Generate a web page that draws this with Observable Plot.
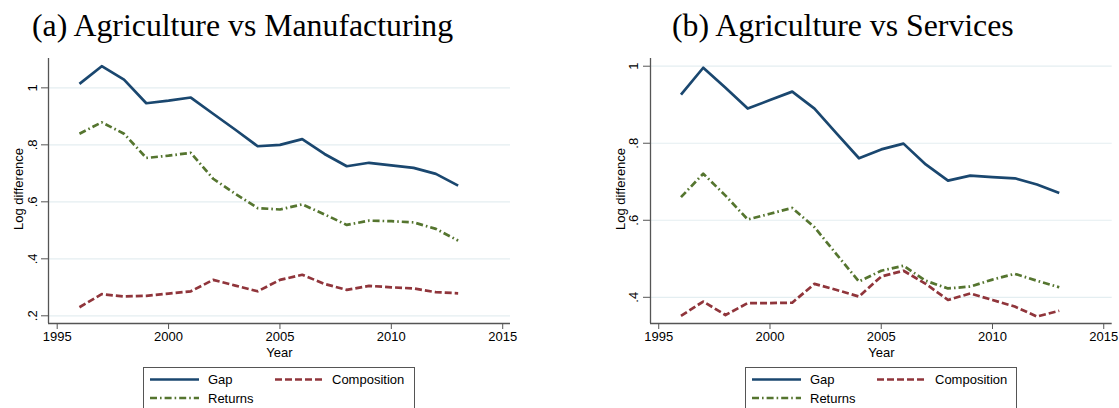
<!DOCTYPE html>
<html><head><meta charset="utf-8">
<script src="https://cdn.jsdelivr.net/npm/d3@7"></script>
<script src="https://cdn.jsdelivr.net/npm/@observablehq/plot@0.6"></script>
<style>
body{margin:0;background:#fff;width:1119px;height:408px;overflow:hidden;position:relative;font-family:"Liberation Sans",Arial,sans-serif}
.title{position:absolute;top:10.2px;font-family:"Liberation Serif","Times New Roman",serif;font-size:31.8px;white-space:nowrap;color:#000;line-height:1}
.panel{position:absolute;top:50px}
.legend{position:absolute;top:367px;width:272px;height:50px;border:1px solid #555;box-sizing:border-box;background:#fff}
.legend svg{position:absolute;left:0;top:0}
</style></head><body>
<div class="title" id="t1" style="left:32px">(a) Agriculture vs Manufacturing</div>
<div class="title" id="t2" style="left:672px">(b) Agriculture vs Services</div>
<div class="panel" id="p1" style="left:0px"></div>
<div class="panel" id="p2" style="left:560px"></div>
<div class="legend" id="l1" style="left:143px"></div>
<div class="legend" id="l2" style="left:745px"></div>
<script>
const years = [1996,1997,1998,1999,2000,2001,2002,2003,2004,2005,2006,2007,2008,2009,2010,2011,2012,2013];
const xTicks = [1995,2000,2005,2010,2015];
const seriesNames = ["Gap","Composition","Returns"];

// (a) Agriculture vs Manufacturing
const mfgGap = [1.014,1.076,1.029,0.946,0.955,0.966,0.909,0.853,0.795,0.800,0.820,0.768,0.725,0.737,0.728,0.719,0.698,0.657];
const mfgComposition = [0.230,0.276,0.268,0.270,0.278,0.286,0.326,0.306,0.286,0.326,0.344,0.312,0.291,0.305,0.300,0.296,0.283,0.279];
const mfgReturns = [0.839,0.879,0.839,0.754,0.762,0.772,0.681,0.628,0.578,0.573,0.591,0.556,0.519,0.534,0.532,0.528,0.505,0.464];
const mfgYTicks = [0.2,0.4,0.6,0.8,1];

// (b) Agriculture vs Services
const svcGap = [0.926,0.996,0.944,0.890,0.912,0.934,0.890,0.825,0.761,0.784,0.799,0.745,0.703,0.716,0.712,0.709,0.693,0.671];
const svcComposition = [0.352,0.389,0.354,0.385,0.385,0.386,0.435,0.419,0.402,0.454,0.469,0.435,0.393,0.410,0.393,0.376,0.350,0.365];
const svcReturns = [0.660,0.721,0.664,0.602,0.617,0.632,0.582,0.511,0.441,0.469,0.482,0.443,0.423,0.428,0.446,0.461,0.443,0.426];
const svcYTicks = [0.4,0.6,0.8,1];

const styles = {
  Gap: {stroke:"#1a476f", dash:null},
  Composition: {stroke:"#90353b", dash:"7,3"},
  Returns: {stroke:"#55752f", dash:"7,3,1.6,3"}
};
const gridColor = "#e4eef1";
const axisColor = "#555";
const fmtY = d => d === 1 ? "1" : d3.format(".1f")(d).replace(/^0/, "");

function rows(name, vals){ return years.map((y,i)=>({year:y, v:vals[i], s:name})); }

function panel(el, cfg){
  const series = {Gap: rows("Gap", cfg.gap), Composition: rows("Composition", cfg.comp), Returns: rows("Returns", cfg.ret)};
  const plot = Plot.plot({
    width: cfg.width, height: 310,
    marginLeft: cfg.ml, marginRight: cfg.mr, marginTop: 8, marginBottom: 37,
    x: {domain: cfg.xd},
    y: {domain: cfg.yd},
    style: {fontFamily: "Liberation Sans, Arial, sans-serif", fontSize: "13px", color: "#000", background: "transparent", overflow: "visible"},
    marks: [
      Plot.ruleY(cfg.yticks, {stroke: gridColor, strokeWidth: 1.2}),
      ...seriesNames.map(n => Plot.line(series[n], {x: "year", y: "v", stroke: styles[n].stroke, strokeWidth: 2.7,
        strokeDasharray: styles[n].dash, strokeLinecap: "butt", strokeLinejoin: "round"})),
      Plot.ruleX([cfg.xd[0]], {stroke: axisColor, strokeWidth: 1.3}),
      Plot.ruleY([cfg.yd[0]], {stroke: axisColor, strokeWidth: 1.3}),
      Plot.axisX({ticks: xTicks, tickSize: 6, tickPadding: 2.5, tickFormat: d => String(d), label: null, stroke: axisColor, fontSize: 13}),
      Plot.axisY({ticks: cfg.yticks, tickSize: 7, tickFormat: () => "", label: null, stroke: axisColor}),
      Plot.text(cfg.yticks, {y: d => d, text: fmtY, rotate: -90, frameAnchor: "left", dx: cfg.tdx, lineAnchor: "bottom", textAnchor: "middle", fontSize: 13, fill: "#000"}),
      Plot.text(["Log difference"], {text: d => d, frameAnchor: "left", rotate: -90, dx: cfg.ldx, dy: -2, lineAnchor: "bottom", textAnchor: "middle", fontSize: 13, fill: "#000"}),
      Plot.text(["Year"], {text: d => d, frameAnchor: "bottom", dy: 23.8, lineAnchor: "top", textAnchor: "middle", fontSize: 13, fill: "#000"})
    ]
  });
  document.getElementById(el).appendChild(plot);
}

panel("p1", {width: 560, ml: 48, mr: 50, xd: [1994.61, 2015.35], yd: [0.173, 1.103], yticks: mfgYTicks,
  gap: mfgGap, comp: mfgComposition, ret: mfgReturns, tdx: -11.3, ldx: -25.7});
panel("p2", {width: 559, ml: 90, mr: 7.3, xd: [1994.63, 2015.38], yd: [0.332, 1.02], yticks: svcYTicks,
  gap: svcGap, comp: svcComposition, ret: svcReturns, tdx: -12.5, ldx: -26});

function legend(el, off){
  const svg = d3.create("svg").attr("width", 272).attr("height", 50)
    .style("font-family", "Liberation Sans, Arial, sans-serif").style("font-size", "13px");
  const items = [
    {n: "Gap", x: 6, y: 11.5, tx: 64},
    {n: "Composition", x: off.cx, y: 11.5, tx: off.ctx},
    {n: "Returns", x: 6, y: 30, tx: 64}
  ];
  for (const it of items) {
    svg.append("line").attr("x1", it.x).attr("x2", it.x + 49).attr("y1", it.y).attr("y2", it.y)
      .attr("stroke", styles[it.n].stroke).attr("stroke-width", 2.7)
      .attr("stroke-dasharray", styles[it.n].dash).attr("stroke-linecap", "butt");
    svg.append("text").attr("x", it.tx).attr("y", it.y + 4.5).attr("fill", "#000").text(it.n);
  }
  document.getElementById(el).appendChild(svg.node());
}
legend("l1", {cx: 131, ctx: 188});
legend("l2", {cx: 131, ctx: 189});
</script>
</body></html>
